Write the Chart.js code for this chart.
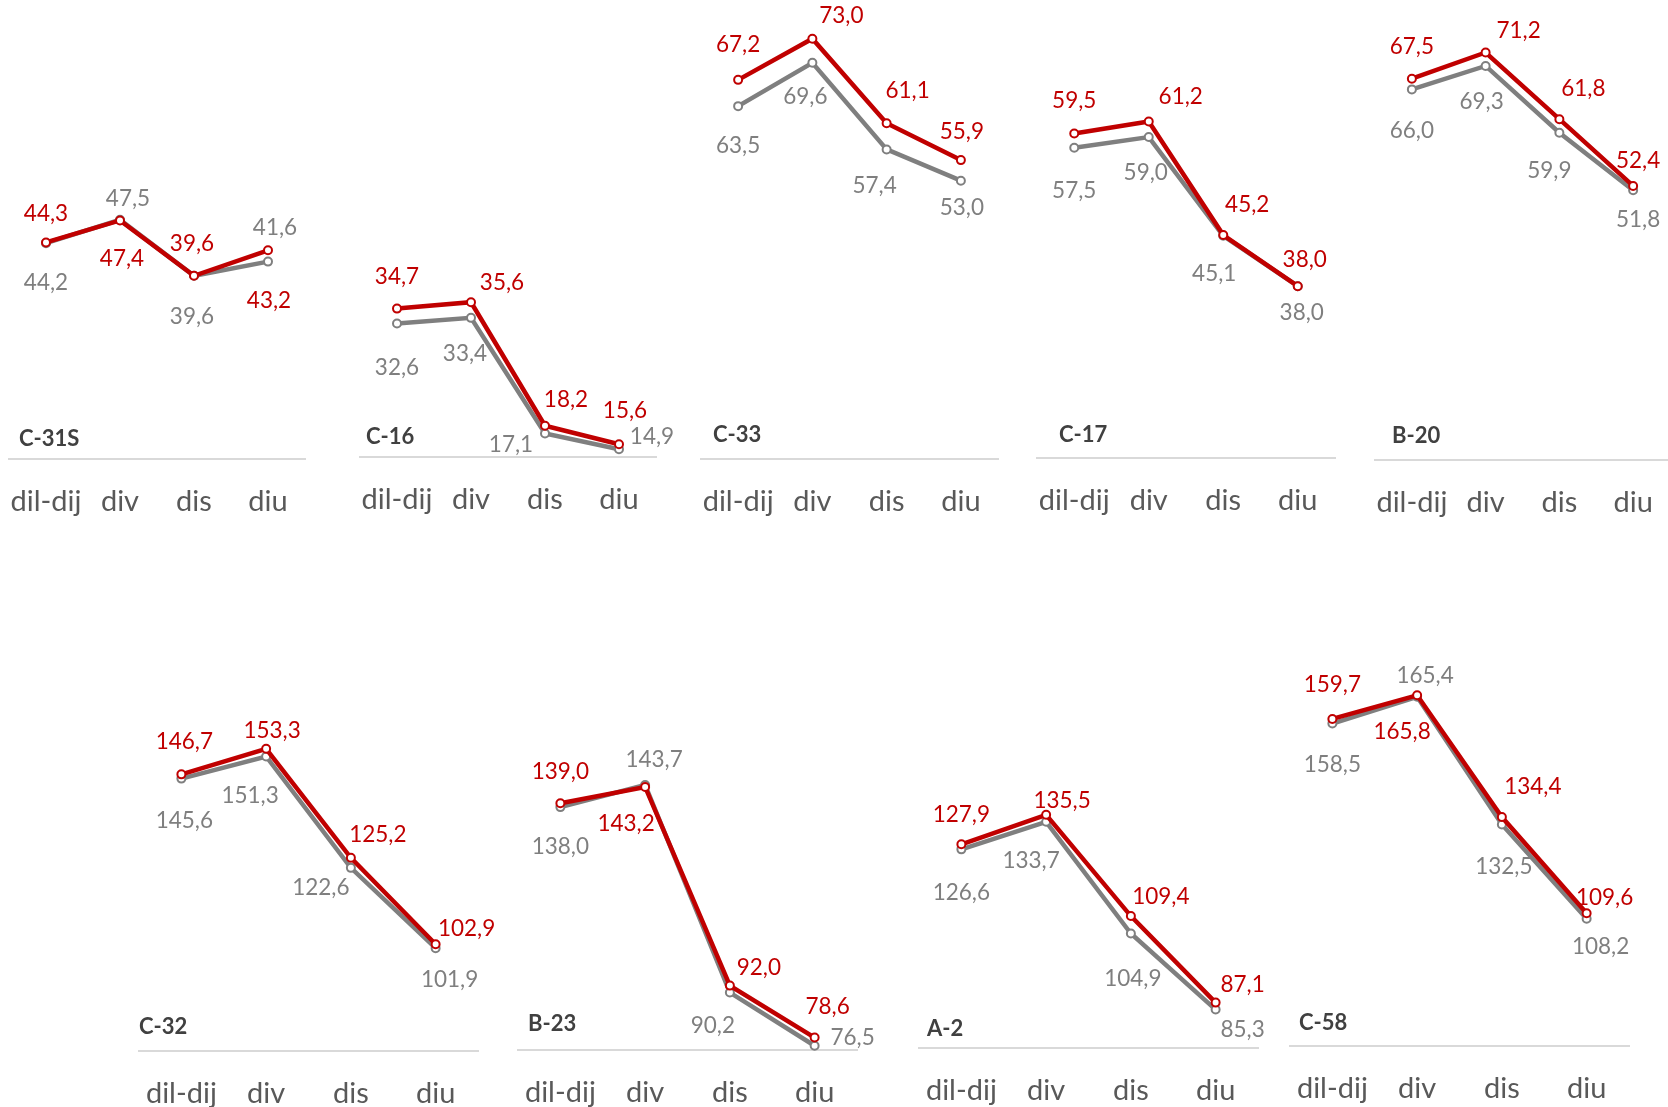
<!DOCTYPE html>
<html>
<head>
<meta charset="utf-8">
<script src="https://cdn.jsdelivr.net/npm/chart.js@4.4.0/dist/chart.umd.min.js"></script>
<style>
  body { margin: 0; background: #fff; width: 1668px; height: 1107px; overflow: hidden; position: relative; }
  canvas { position: absolute; }
  .panel-title { position: absolute; font: bold 22px Lato, sans-serif; color: #404040; transform: translateY(-50%); white-space: nowrap; }
</style>
</head>
<body>
<script>
// categories shared by every panel
const categories = ['dil-dij', 'div', 'dis', 'diu'];

// values per panel: red series and gray series
const c31sRed = [44.3, 47.4, 39.6, 43.2];
const c31sGray = [44.2, 47.5, 39.6, 41.6];
const c16Red = [34.7, 35.6, 18.2, 15.6];
const c16Gray = [32.6, 33.4, 17.1, 14.9];
const c33Red = [67.2, 73.0, 61.1, 55.9];
const c33Gray = [63.5, 69.6, 57.4, 53.0];
const c17Red = [59.5, 61.2, 45.2, 38.0];
const c17Gray = [57.5, 59.0, 45.1, 38.0];
const b20Red = [67.5, 71.2, 61.8, 52.4];
const b20Gray = [66.0, 69.3, 59.9, 51.8];
const c32Red = [146.7, 153.3, 125.2, 102.9];
const c32Gray = [145.6, 151.3, 122.6, 101.9];
const b23Red = [139.0, 143.2, 92.0, 78.6];
const b23Gray = [138.0, 143.7, 90.2, 76.5];
const a2Red = [127.9, 135.5, 109.4, 87.1];
const a2Gray = [126.6, 133.7, 104.9, 85.3];
const c58Red = [159.7, 165.8, 134.4, 109.6];
const c58Gray = [158.5, 165.4, 132.5, 108.2];

const RED = '#c00000';
const GRAY = '#7f7f7f';

// shared y range per row (value at the axis line and pixels per unit)
const rows = {
  top:    { min: 13.8, ppu: 7.1,  areaH: 440, padT: 20 },
  bottom: { min: 75.4, ppu: 3.88, areaH: 400, padT: 30 }
};

const AXIS_H = 62;
const PAD_L = 12;
const PAD_R = 44;

const panels = [
  { name: 'C-31S', red: c31sRed, gray: c31sGray, row: 'top', left: 9, right: 305, axisY: 459, titleX: 19, titleY: 437,
    redOff: [[0, -29], [2, 38], [-2, -32], [1, 50]], grayOff: [[0, 40], [8, -21], [-2, 41], [7, -34]] },
  { name: 'C-16', red: c16Red, gray: c16Gray, row: 'top', left: 360, right: 656, axisY: 457, titleX: 366, titleY: 435,
    redOff: [[0, -32], [31, -19], [21, -26], [6, -33]], grayOff: [[0, 44], [-6, 36], [-34, 11], [33, -12]] },
  { name: 'C-33', red: c33Red, gray: c33Gray, row: 'top', left: 701, right: 998, axisY: 459, titleX: 713, titleY: 433,
    redOff: [[0, -35], [29, -23], [21, -32], [1, -28]], grayOff: [[0, 40], [-7, 34], [-12, 36], [1, 27]] },
  { name: 'C-17', red: c17Red, gray: c17Gray, row: 'top', left: 1037, right: 1335, axisY: 458, titleX: 1059, titleY: 433,
    redOff: [[0, -33], [32, -25], [24, -30], [7, -26]], grayOff: [[0, 43], [-3, 36], [-9, 38], [4, 27]] },
  { name: 'B-20', red: b20Red, gray: b20Gray, row: 'top', left: 1375, right: 1670, axisY: 460, titleX: 1392, titleY: 434,
    redOff: [[0, -32], [33, -22], [24, -30], [5, -25]], grayOff: [[0, 41], [-4, 36], [-10, 38], [5, 30]] },
  { name: 'C-32', red: c32Red, gray: c32Gray, row: 'bottom', left: 139, right: 478, axisY: 1051, titleX: 139, titleY: 1025,
    redOff: [[3, -33], [6, -18], [27, -23], [31, -16]], grayOff: [[3, 42], [-16, 39], [-30, 20], [14, 32]] },
  { name: 'B-23', red: b23Red, gray: b23Gray, row: 'bottom', left: 518, right: 857, axisY: 1050, titleX: 528, titleY: 1022,
    redOff: [[0, -31], [-19, 37], [29, -18], [13, -31]], grayOff: [[0, 40], [9, -25], [-17, 33], [38, -8]] },
  { name: 'A-2', red: a2Red, gray: a2Gray, row: 'bottom', left: 919, right: 1258, axisY: 1048, titleX: 927, titleY: 1027,
    redOff: [[0, -30], [16, -14], [30, -19], [27, -18]], grayOff: [[0, 43], [-15, 39], [2, 45], [27, 20]] },
  { name: 'C-58', red: c58Red, gray: c58Gray, row: 'bottom', left: 1290, right: 1629, axisY: 1046, titleX: 1299, titleY: 1021,
    redOff: [[0, -34], [-15, 37], [31, -30], [18, -16]], grayOff: [[0, 41], [8, -21], [2, 42], [14, 28]] }
];

const fmt = v => v.toFixed(1).replace('.', ',');

// value labels next to each point, shifted by the dataset's labelOffsets
const pointLabels = {
  id: 'pointLabels',
  afterDatasetsDraw(chart) {
    const ctx = chart.ctx;
    ctx.save();
    ctx.font = '22.5px Lato, sans-serif';
    ctx.textAlign = 'center';
    ctx.textBaseline = 'middle';
    chart.data.datasets.forEach((ds, i) => {
      const meta = chart.getDatasetMeta(i);
      meta.data.forEach((pt, j) => {
        const off = ds.labelOffsets[j];
        ctx.fillStyle = ds.borderColor;
        ctx.fillText(fmt(ds.data[j]), pt.x + off[0], pt.y + off[1]);
      });
    });
    ctx.restore();
  }
};

function makeSeries(values, color, width, offsets) {
  return {
    data: values,
    borderColor: color,
    borderWidth: width,
    pointStyle: 'circle',
    pointRadius: 4,
    pointBorderWidth: 2,
    pointBackgroundColor: '#fff',
    pointBorderColor: color,
    tension: 0,
    clip: false,
    labelOffsets: offsets
  };
}

panels.forEach(p => {
  const row = rows[p.row];
  const canvas = document.createElement('canvas');
  const w = (p.right - p.left) + PAD_L + PAD_R;
  const h = row.padT + row.areaH + AXIS_H;
  canvas.width = w;
  canvas.height = h;
  canvas.style.left = (p.left - PAD_L) + 'px';
  canvas.style.top = (p.axisY - row.areaH - row.padT) + 'px';
  document.body.appendChild(canvas);

  const title = document.createElement('div');
  title.className = 'panel-title';
  title.textContent = p.name;
  title.style.left = p.titleX + 'px';
  title.style.top = p.titleY + 'px';
  document.body.appendChild(title);

  new Chart(canvas, {
    type: 'line',
    data: {
      labels: categories,
      // red first so it is drawn on top of the gray line
      datasets: [
        makeSeries(p.red, RED, 4.5, p.redOff),
        makeSeries(p.gray, GRAY, 4.5, p.grayOff)
      ]
    },
    options: {
      responsive: false,
      devicePixelRatio: 1,
      animation: false,
      layout: { padding: { left: PAD_L, right: PAD_R, top: row.padT, bottom: 0 } },
      plugins: { legend: { display: false }, tooltip: { enabled: false } },
      scales: {
        x: {
          offset: true,
          grid: { display: false, drawTicks: false },
          border: { display: true, color: '#d9d9d9', width: 2 },
          ticks: { color: '#595959', font: { family: 'Lato', size: 29 }, padding: 25, maxRotation: 0, autoSkip: false },
          afterFit(scale) {
            scale.height = AXIS_H;
            // keep the plot area exactly between the padding edges
            scale.paddingLeft = 0;
            scale.paddingRight = 0;
          }
        },
        y: {
          display: false,
          min: row.min,
          max: row.min + row.areaH / row.ppu
        }
      }
    },
    plugins: [pointLabels]
  });
});
</script>
</body>
</html>
